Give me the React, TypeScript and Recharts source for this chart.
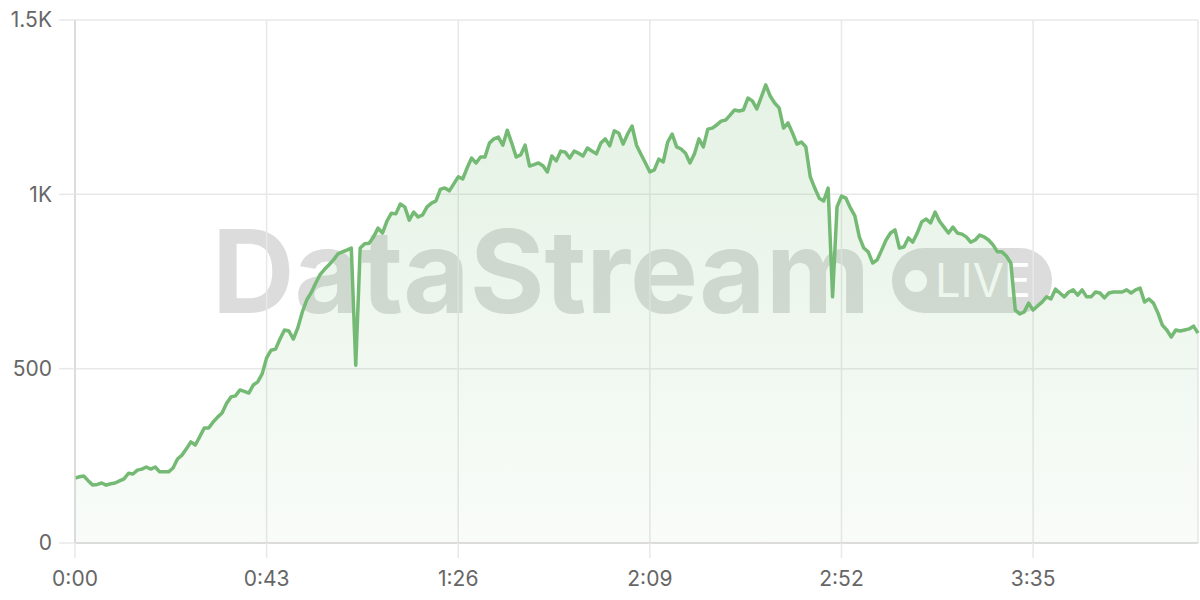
import React from 'react';
import { AreaChart, Area, XAxis, YAxis, CartesianGrid } from 'recharts';

// viewers per second, one sample each second from 0:00
const viewers = [
  186, 190, 192, 178, 166, 168, 172, 166, 170, 172,
  178, 184, 200, 198, 209, 212, 218, 212, 218, 204,
  204, 204, 215, 241, 252, 270, 290, 281, 305, 330,
  330, 347, 361, 373, 400, 419, 422, 439, 435, 430,
  453, 462, 485, 531, 553, 556, 585, 611, 608, 585,
  617, 662, 697, 718, 745, 770, 785, 798, 812, 829,
  835, 840, 846, 510, 846, 858, 860, 878, 903, 889,
  923, 946, 944, 972, 964, 926, 949, 935, 941, 964,
  975, 981, 1015, 1018, 1010, 1030, 1050, 1044, 1076, 1104,
  1090, 1107, 1107, 1147, 1159, 1164, 1141, 1184, 1147, 1107,
  1113, 1141, 1081, 1085, 1090, 1082, 1064, 1110, 1096, 1124,
  1121, 1104, 1124, 1118, 1110, 1133, 1124, 1116, 1147, 1159,
  1139, 1182, 1176, 1144, 1173, 1196, 1141, 1115, 1090, 1064,
  1070, 1101, 1093, 1150, 1173, 1136, 1130, 1118, 1090, 1116,
  1159, 1136, 1187, 1190, 1199, 1210, 1213, 1227, 1242, 1239,
  1242, 1276, 1268, 1245, 1279, 1314, 1282, 1262, 1248, 1190,
  1205, 1176, 1144, 1150, 1136, 1050, 1018, 989, 981, 1018,
  706, 964, 995, 989, 961, 938, 878, 846, 835, 803,
  812, 840, 869, 889, 898, 846, 849, 875, 863, 889,
  921, 929, 918, 949, 923, 906, 889, 906, 889, 886,
  878, 863, 869, 883, 878, 869, 855, 835, 835, 823,
  803, 668, 657, 663, 688, 668, 680, 691, 706, 700,
  728, 717, 706, 720, 726, 711, 726, 706, 706, 720,
  717, 703, 717, 720, 720, 720, 726, 717, 726, 731,
  691, 700, 688, 660, 625, 611, 591, 611, 608, 611,
  614, 622, 602,
];

const xTickSeconds = [0, 43, 86, 129, 172, 215];
const xTickLabels = ['0:00', '0:43', '1:26', '2:09', '2:52', '3:35'];
const yTicks = [0, 500, 1000, 1500];
const yTickLabels = ['0', '500', '1K', '1.5K'];

const data = viewers.map((v, i) => ({ t: i, v }));

const font = 'Inter, "DejaVu Sans", sans-serif';
const tickStyle = { fill: '#666', fontSize: 21, fontFamily: font };

function Watermark() {
  return (
    <svg width={1200} height={600} style={{ position: 'absolute', left: 0, top: 0 }}>
      <text
        x={212}
        y={313}
        fontSize={115}
        fontWeight={700}
        fontFamily={font}
        fill="#dcdcdc"
        textLength={658}
        lengthAdjust="spacingAndGlyphs"
      >
        DataStream
      </text>
      <rect x={892} y={248} width={160} height={65} rx={32} fill="#dcdcdc" />
      <circle cx={916} cy={281} r={11} fill="#fff" />
      <text
        x={935}
        y={297}
        fontSize={46}
        fontFamily={font}
        fill="#fff"
        textLength={96}
        lengthAdjust="spacingAndGlyphs"
      >
        LIVE
      </text>
    </svg>
  );
}

export default function App() {
  return (
    <div style={{ position: 'relative', width: 1200, height: 600, background: '#fff' }}>
      <style>{'body{margin:0}'}</style>
      <Watermark />
      <div style={{ position: 'absolute', left: 0, top: 0 }}>
        <AreaChart width={1200} height={600} data={data} margin={{ top: 20, right: 2, bottom: 0, left: 0 }}>
          <defs>
            <linearGradient id="fillGreen" x1="0" y1="0" x2="0" y2="1">
              <stop offset="0%" stopColor="#7cbf7c" stopOpacity={0.34} />
              <stop offset="100%" stopColor="#7cbf7c" stopOpacity={0.08} />
            </linearGradient>
          </defs>
          <CartesianGrid stroke="#e8e8e8" strokeWidth={1.5} />
          <XAxis
            dataKey="t"
            type="number"
            domain={[0, 252]}
            ticks={xTickSeconds}
            tickFormatter={(s: number) => xTickLabels[xTickSeconds.indexOf(s)]}
            height={57}
            tickSize={15}
            tickMargin={13}
            tick={tickStyle}
            stroke="#d6d6d6"
            strokeWidth={1.5}
            tickLine={{ stroke: '#e8e8e8' }}
          />
          <YAxis
            type="number"
            domain={[0, 1500]}
            ticks={yTicks}
            tickFormatter={(v: number) => yTickLabels[yTicks.indexOf(v)]}
            width={75}
            tickSize={16}
            tickMargin={7}
            tick={tickStyle}
            stroke="#d6d6d6"
            strokeWidth={1.5}
            tickLine={{ stroke: '#e8e8e8' }}
          />
          <Area
            type="linear"
            dataKey="v"
            stroke="#74ba74"
            strokeWidth={3.5}
            strokeLinejoin="round"
            fill="url(#fillGreen)"
            dot={false}
            activeDot={false}
            isAnimationActive={false}
          />
        </AreaChart>
      </div>
    </div>
  );
}
